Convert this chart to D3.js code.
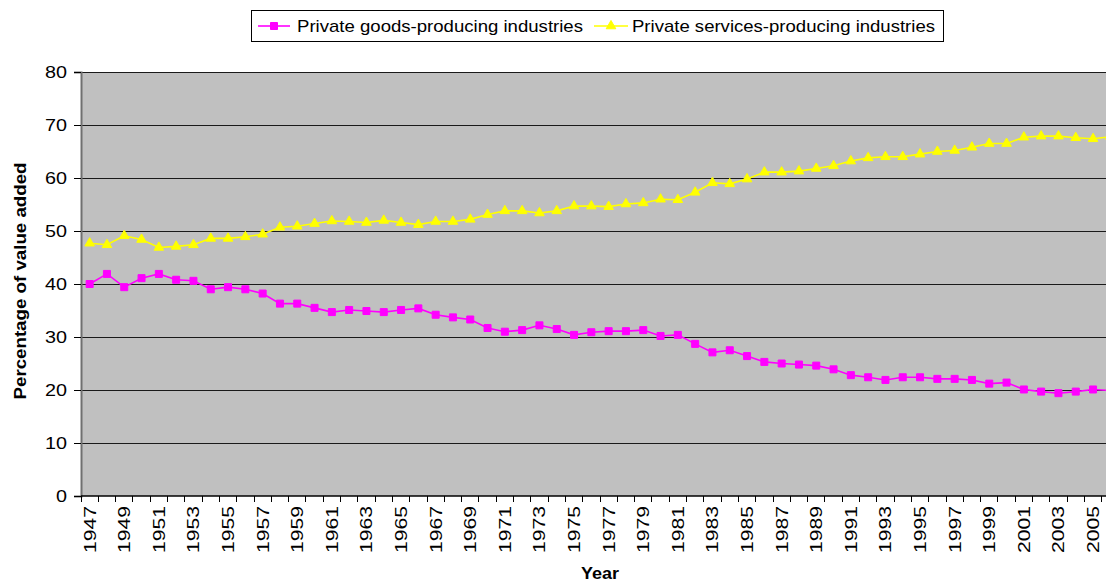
<!DOCTYPE html>
<html>
<head>
<meta charset="utf-8">
<script src="https://cdn.jsdelivr.net/npm/d3@7"></script>
<style>
  html, body { margin: 0; padding: 0; background: #ffffff; }
  svg { display: block; }
  text { font-family: Arial, "Liberation Sans", sans-serif; fill: #000; }
</style>
</head>
<body>
<svg id="chart" width="1106" height="583"></svg>
<script>
// Share of value added by private industry group, 1947-2006
const years = d3.range(1947, 2007);

const goodsShare = [
  40.0, 41.9, 39.4, 41.1, 41.9, 40.8, 40.6, 39.0, 39.4, 39.0,
  38.2, 36.3, 36.3, 35.5, 34.7, 35.1, 34.9, 34.7, 35.1, 35.4,
  34.2, 33.7, 33.3, 31.7, 31.0, 31.3, 32.2, 31.5, 30.4, 30.9,
  31.1, 31.1, 31.3, 30.2, 30.4, 28.7, 27.1, 27.5, 26.4, 25.3,
  25.0, 24.8, 24.6, 23.9, 22.8, 22.4, 21.9, 22.4, 22.4, 22.1,
  22.1, 21.9, 21.2, 21.4, 20.1, 19.7, 19.4, 19.7, 20.1, 19.9
];

const servicesShare = [
  47.7, 47.4, 49.1, 48.4, 46.9, 47.1, 47.4, 48.6, 48.6, 48.9,
  49.4, 50.7, 50.9, 51.4, 51.9, 51.8, 51.6, 52.0, 51.6, 51.2,
  51.8, 51.8, 52.2, 53.1, 53.8, 53.8, 53.4, 53.8, 54.7, 54.7,
  54.6, 55.1, 55.3, 56.0, 55.9, 57.3, 59.1, 58.9, 59.8, 61.1,
  61.1, 61.3, 61.8, 62.3, 63.2, 63.8, 64.0, 64.0, 64.5, 65.0,
  65.2, 65.8, 66.5, 66.5, 67.7, 67.9, 67.9, 67.6, 67.4, 67.8
];

const yTicks = [0, 10, 20, 30, 40, 50, 60, 70, 80];
const yearLabels = years.filter((y, i) => i % 2 === 0);

const seriesNames = [
  "Private goods-producing industries",
  "Private services-producing industries"
];

const svg = d3.select("#chart");

// Plot area geometry (the category axis runs past the right edge of the view)
const plotLeft = 81, plotTop = 72, plotBottom = 496;
const band = 17.3;
const plotRight = plotLeft + band * years.length;

const x = d3.scaleBand()
  .domain(years)
  .range([plotLeft, plotRight])
  .paddingInner(0).paddingOuter(0);

const y = d3.scaleLinear().domain([0, 80]).range([plotBottom, plotTop]);

const cx = yr => x(yr) + x.bandwidth() / 2;

// Grey plot background
svg.append("rect")
  .attr("x", plotLeft).attr("y", plotTop)
  .attr("width", plotRight - plotLeft).attr("height", plotBottom - plotTop)
  .attr("fill", "#c0c0c0");

// Horizontal gridlines
svg.append("g")
  .selectAll("line")
  .data(yTicks.filter(t => t > 0))
  .join("line")
  .attr("x1", plotLeft).attr("x2", plotRight)
  .attr("y1", d => y(d)).attr("y2", d => y(d))
  .attr("stroke", "#1a1a1a").attr("stroke-width", 1)
  .attr("shape-rendering", "crispEdges");

// Y axis
const yAxis = svg.append("g")
  .attr("transform", `translate(${plotLeft},0)`)
  .call(d3.axisLeft(y).tickValues(yTicks).tickSize(7).tickPadding(7).tickFormat(d3.format("d")));
yAxis.select(".domain").attr("stroke", "#707070").attr("stroke-width", 2);
yAxis.selectAll(".tick line").attr("stroke", "#000").attr("shape-rendering", "crispEdges");
yAxis.selectAll(".tick text")
  .style("font-family", "Arial, 'Liberation Sans', sans-serif")
  .style("font-size", "17px")
  .attr("textLength", d => String(d).length * 11)
  .attr("lengthAdjust", "spacingAndGlyphs");

// X axis: baseline and ticks at category boundaries
svg.append("line")
  .attr("x1", plotLeft).attr("x2", plotRight)
  .attr("y1", plotBottom).attr("y2", plotBottom)
  .attr("stroke", "#000").attr("stroke-width", 1.5);

svg.append("g")
  .selectAll("line")
  .data(years.concat([years[years.length - 1] + 1]))
  .join("line")
  .attr("x1", d => (x(d) !== undefined ? x(d) : plotRight))
  .attr("x2", d => (x(d) !== undefined ? x(d) : plotRight))
  .attr("y1", plotBottom).attr("y2", plotBottom + 6)
  .attr("stroke", "#000").attr("shape-rendering", "crispEdges");

// Rotated year labels
svg.append("g")
  .selectAll("text")
  .data(yearLabels)
  .join("text")
  .attr("transform", d => `translate(${cx(d)},506) rotate(-90)`)
  .attr("text-anchor", "end")
  .attr("dy", "0.35em")
  .style("font-size", "17px")
  .attr("textLength", 47)
  .attr("lengthAdjust", "spacingAndGlyphs")
  .text(d => d);

// Axis titles
svg.append("text")
  .attr("transform", "translate(26,281) rotate(-90)")
  .attr("text-anchor", "middle")
  .style("font-size", "17px").style("font-weight", "bold")
  .attr("textLength", 237).attr("lengthAdjust", "spacingAndGlyphs")
  .text("Percentage of value added");

svg.append("text")
  .attr("x", 600).attr("y", 579)
  .attr("text-anchor", "middle")
  .style("font-size", "16px").style("font-weight", "bold")
  .attr("textLength", 38).attr("lengthAdjust", "spacingAndGlyphs")
  .text("Year");

// Series
const series = [
  { name: seriesNames[0], values: goodsShare, color: "#ff00ff", symbol: d3.symbolSquare, size: 49 },
  { name: seriesNames[1], values: servicesShare, color: "#ffff00", symbol: d3.symbolTriangle, size: 40 }
];

const line = d3.line().x(d => cx(d.year)).y(d => y(d.value));

series.forEach(s => {
  const pts = years.map((yr, i) => ({ year: yr, value: s.values[i] }));
  const g = svg.append("g");
  g.append("path")
    .datum(pts)
    .attr("d", line)
    .attr("fill", "none")
    .attr("stroke", s.color)
    .attr("stroke-width", 1.6);
  g.selectAll("path.marker")
    .data(pts)
    .join("path")
    .attr("class", "marker")
    .attr("transform", d => `translate(${cx(d.year)},${y(d.value)})`)
    .attr("d", d3.symbol().type(s.symbol).size(s.size))
    .attr("fill", s.color)
    .attr("stroke", s.color)
    .attr("stroke-width", 1);
});

// Legend
const legend = svg.append("g");
legend.append("rect")
  .attr("x", 251.5).attr("y", 10.5)
  .attr("width", 692).attr("height", 31)
  .attr("fill", "#fff").attr("stroke", "#000").attr("stroke-width", 1);

const legendItems = [
  { s: series[0], x1: 258, x2: 290, tx: 297, tl: 286 },
  { s: series[1], x1: 594, x2: 628, tx: 632, tl: 303 }
];

legendItems.forEach(it => {
  const ly = 26;
  legend.append("line")
    .attr("x1", it.x1).attr("x2", it.x2)
    .attr("y1", ly).attr("y2", ly)
    .attr("stroke", it.s.color).attr("stroke-width", 1.6);
  legend.append("path")
    .attr("transform", `translate(${(it.x1 + it.x2) / 2},${ly})`)
    .attr("d", d3.symbol().type(it.s.symbol).size(it.s.size))
    .attr("fill", it.s.color).attr("stroke", it.s.color);
  legend.append("text")
    .attr("x", it.tx).attr("y", ly)
    .attr("dy", "0.35em")
    .style("font-size", "17px")
    .attr("textLength", it.tl).attr("lengthAdjust", "spacingAndGlyphs")
    .text(it.s.name);
});
</script>
</body>
</html>
